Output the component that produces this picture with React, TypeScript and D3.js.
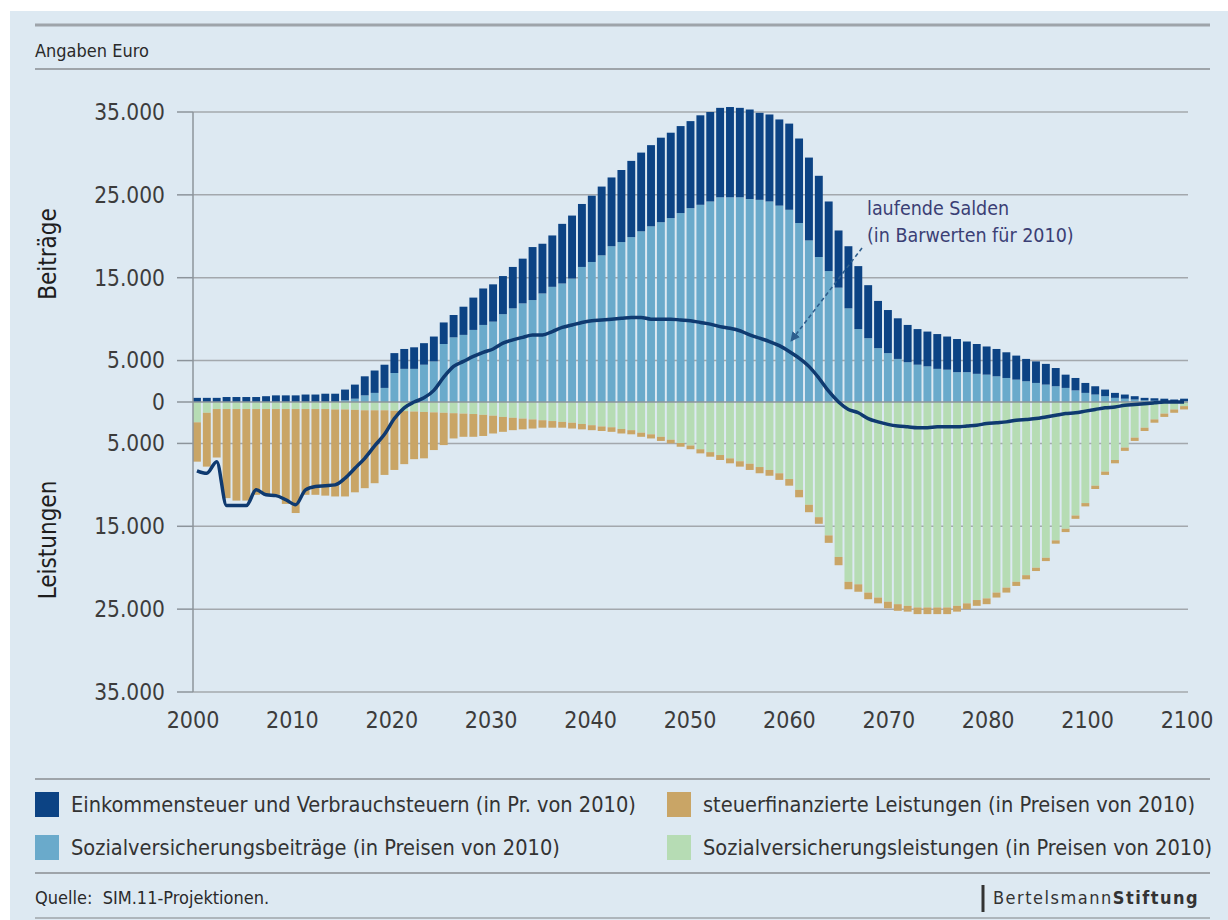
import React, { useEffect } from 'react';
import * as d3 from 'd3';

// Jahre 2000 bis 2100, ein Balken pro Jahr
const years = d3.range(2000, 2101);

// Beiträge (positiv), Euro
const sozialBeitraege = [
  0, 0, 0, 0, 0, 0, 0, 0, 0, 0, 0, 0, 0, 0, 0,
  200, 400, 800, 1100, 1700, 3500, 4000, 4000, 4500, 4900,
  7000, 7800, 8100, 8700, 9300, 9700, 10600, 11300, 11900, 12300,
  13100, 13900, 14300, 14900, 16300, 16900, 17700, 18800, 19300, 19900,
  20600, 21200, 21700, 22200, 22800, 23400, 23800, 24200, 24700, 24700,
  24700, 24500, 24400, 24200, 23700, 23200, 21600, 19500, 17500, 15800,
  13800, 11300, 8800, 7700, 6500, 5900, 5200, 4800, 4500, 4300,
  4000, 3900, 3600, 3600, 3400, 3300, 3100, 2900, 2700, 2500,
  2300, 2100, 1900, 1700, 1400, 1100, 900, 700, 500, 400,
  300, 200, 150, 100, 100, 100,
];
const steuern = [
  500, 500, 500, 600, 600, 600, 600, 700, 800, 800, 800, 900, 900, 1000, 1000,
  1300, 1700, 2300, 2700, 2800, 2400, 2400, 2600, 2600, 3000,
  2600, 2700, 3400, 3900, 4400, 4500, 4600, 5000, 5400, 6400,
  6000, 6200, 7200, 7600, 7600, 8000, 8300, 8300, 8700, 9200,
  9500, 9800, 10200, 10300, 10500, 10500, 10800, 10800, 10800, 10900,
  10800, 10800, 10500, 10500, 10400, 10400, 10200, 10000, 9800, 8400,
  6900, 7500, 7600, 6400, 5700, 5200, 4900, 4500, 4300, 4200,
  4200, 4000, 4000, 3700, 3600, 3400, 3300, 3100, 2900, 2700,
  2600, 2500, 2200, 1600, 1500, 1200, 1000, 800, 600, 500,
  400, 300, 300, 300, 200, 300,
];

// Leistungen (als Beträge, nach unten gezeichnet), Euro
const svLeistungen = [
  2450, 1300, 850, 850, 850, 850, 850, 850, 850, 850,
  850, 850, 850, 850, 900, 900, 950, 1000, 1000, 1000,
  1050, 1100, 1150, 1200, 1250, 1300, 1350, 1400, 1450, 1550,
  1650, 1800, 1900, 2000, 2100, 2200, 2300, 2400, 2500, 2650,
  2800, 2950, 3050, 3250, 3400, 3700, 3900, 4200, 4550, 4950,
  5250, 5700, 6050, 6400, 6800, 7150, 7450, 7850, 8200, 8600,
  9300, 10600, 12400, 13900, 16100, 18700, 21700, 22000, 23000, 23600,
  24100, 24400, 24600, 24800, 24800, 24800, 24800, 24600, 24300, 23900,
  23700, 23000, 22400, 21700, 20900, 20000, 18800, 16700, 15300, 13700,
  12200, 10100, 8400, 7000, 5500, 4300, 3100, 2100, 1400, 900,
  500,
];
const steuerLeistungen = [
  4750, 6500, 5850, 10750, 11050, 11050, 10350, 10350, 10350, 11450,
  12550, 10350, 10350, 10450, 10500, 10500, 9950, 9400, 8800, 7800,
  7150, 6400, 5750, 5600, 4550, 3900, 3050, 2800, 2750, 2550,
  2150, 1800, 1500, 1300, 1100, 900, 800, 700, 700, 650,
  600, 550, 550, 550, 500, 500, 500, 500, 450, 450,
  450, 500, 550, 600, 600, 650, 750, 750, 700, 800,
  800, 900, 900, 800, 900, 1000, 900, 900, 800, 700,
  800, 800, 700, 800, 800, 800, 800, 700, 700, 700,
  700, 600, 600, 500, 500, 400, 400, 400, 400, 400,
  400, 400, 400, 400, 400, 400, 400, 400, 400, 400,
  400,
];

// laufende Salden (in Barwerten für 2010)
const salden = [
  -8300, -8600, -7200, -12500, -12500, -12500, -10600, -11200, -11300, -11800,
  -12400, -10600, -10200, -10100, -10000, -9200, -8000, -6800, -5300, -3900,
  -2000, -700, 0, 500, 1400, 3000, 4300, 4900, 5500, 6000,
  6400, 7100, 7500, 7800, 8100, 8100, 8500, 9000, 9300, 9600,
  9800, 9900, 10000, 10100, 10200, 10200, 10000, 10000, 10000, 9900,
  9800, 9600, 9400, 9100, 8900, 8600, 8100, 7700, 7300, 6800,
  6100, 5300, 4300, 2900, 1300, 0, -900, -1300, -2000, -2400,
  -2700, -2900, -3000, -3100, -3100, -3000, -3000, -3000, -2900, -2800,
  -2600, -2500, -2400, -2200, -2100, -2000, -1800, -1600, -1400, -1300,
  -1100, -900, -700, -600, -400, -300, -200, -100, 0, 0,
  0,
];

const yTicks = [35000, 25000, 15000, 5000, 0, -5000, -15000, -25000, -35000];
const yTickLabels = ['35.000', '25.000', '15.000', '5.000', '0', '5.000', '15.000', '25.000', '35.000'];
const xTicks = [2000, 2010, 2020, 2030, 2040, 2050, 2060, 2070, 2080, 2090, 2100];
const xTickLabels = ['2000', '2010', '2020', '2030', '2040', '2050', '2060', '2070', '2080', '2100', '2100'];

const legendItems = [
  { key: 'steuern', label: 'Einkommensteuer und Verbrauchsteuern (in Pr. von 2010)', color: '#0c4384' },
  { key: 'beitraege', label: 'Sozialversicherungsbeiträge (in Preisen von 2010)', color: '#6aaacb' },
  { key: 'stLeist', label: 'steuerfinanzierte Leistungen (in Preisen von 2010)', color: '#c9a566' },
  { key: 'svLeist', label: 'Sozialversicherungsleistungen (in Preisen von 2010)', color: '#b6dcb4' },
];

const colors: Record<string, string> = {
  beitraege: '#6aaacb',
  steuern: '#0c4384',
  svLeist: '#b6dcb4',
  stLeist: '#c9a566',
};

const FONT = "'Liberation Sans Narrow', 'DejaVu Sans Condensed', 'Arial Narrow', sans-serif";
const BG = '#dde9f2';
const RULE = '#9ea4aa';

export default function App() {
  useEffect(() => {
    document.body.style.margin = '0';
  }, []);

  const W = 1228;
  const H = 920;

  const x = d3.scaleBand<number>().domain(years).range([193, 1188]).paddingInner(0.2).paddingOuter(0);
  const xAxis = d3.scaleLinear().domain([2000, 2100]).range([193, 1187]);
  const y = d3.scaleLinear().domain([-35000, 35000]).range([692, 112]);

  const rows = years.map((yr, i) => ({
    year: yr,
    beitraege: sozialBeitraege[i],
    steuern: steuern[i],
    svLeist: -svLeistungen[i],
    stLeist: -steuerLeistungen[i],
  }));
  const series = d3.stack<any>()
    .keys(['beitraege', 'steuern', 'svLeist', 'stLeist'])
    .offset(d3.stackOffsetDiverging)(rows);

  const line = d3.line<number>()
    .x((_, i) => (x(years[i]) as number) + x.bandwidth() / 2)
    .y(d => y(d))
    .curve(d3.curveMonotoneX);

  const plotLeft = 193;
  const plotRight = 1188;

  return (
    <svg width={W} height={H} style={{ display: 'block', fontFamily: FONT }}>
      <rect x={0} y={0} width={W} height={H} fill="#fff" />
      <rect x={10} y={11} width={W - 10} height={H - 11} fill={BG} />

      {/* Kopf */}
      <line x1={35} x2={1210} y1={25} y2={25} stroke={RULE} strokeWidth={3} />
      <text x={35} y={57} fontSize={18} fill="#2a2a2a">Angaben Euro</text>
      <line x1={35} x2={1210} y1={69} y2={69} stroke={RULE} strokeWidth={2} />

      {/* Gitter */}
      {yTicks.filter(t => t !== 0).map(t => (
        <line key={t} x1={plotLeft} x2={plotRight} y1={y(t)} y2={y(t)} stroke="#a3a8ad" strokeWidth={1.5} />
      ))}

      {/* Balken */}
      {series.map(s => (
        <g key={s.key} fill={colors[s.key]}>
          {s.map((d, i) => {
            const y0 = y(Math.max(d[0], d[1]));
            const y1 = y(Math.min(d[0], d[1]));
            return (
              <rect key={i} x={x(years[i])} y={y0} width={x.bandwidth()} height={Math.max(0, y1 - y0)} />
            );
          })}
        </g>
      ))}

      {/* Nulllinie und Achsen */}
      <line x1={plotLeft} x2={plotRight} y1={y(0)} y2={y(0)} stroke="#8c949b" strokeWidth={1.5} />
      <line x1={plotLeft} x2={plotLeft} y1={y(35000)} y2={y(-35000)} stroke="#8c949b" strokeWidth={1.5} />
      {yTicks.map((t, i) => (
        <g key={t}>
          <line x1={177} x2={plotLeft} y1={y(t)} y2={y(t)} stroke="#8c949b" strokeWidth={1.5} />
          <text x={165} y={y(t)} dy="0.35em" textAnchor="end" fontSize={22.5} fill="#3c3c3c">{yTickLabels[i]}</text>
        </g>
      ))}
      {xTicks.map((t, i) => (
        <text key={t} x={xAxis(t)} y={720} dy="0.35em" textAnchor="middle" fontSize={23} fill="#3c3c3c">{xTickLabels[i]}</text>
      ))}

      <text transform={`translate(56,254) rotate(-90)`} textAnchor="middle" fontSize={24} fill="#1e1e1e">Beiträge</text>
      <text transform={`translate(56,540) rotate(-90)`} textAnchor="middle" fontSize={24} fill="#1e1e1e">Leistungen</text>

      {/* laufende Salden */}
      <path d={line(salden) ?? ''} fill="none" stroke="#0f3a70" strokeWidth={3.5} strokeLinejoin="round" />

      <defs>
        <marker id="arrow" viewBox="0 0 10 10" refX="9" refY="5" markerWidth="6" markerHeight="6" orient="auto-start-reverse">
          <path d="M0,0 L10,5 L0,10 z" fill="#2e5f8e" />
        </marker>
      </defs>
      <line x1={862} y1={248} x2={791} y2={341} stroke="#2e5f8e" strokeWidth={1.6} strokeDasharray="4,3" markerEnd="url(#arrow)" />
      <text x={867} y={215} fontSize={19.5} fill="#3b3f75">laufende Salden</text>
      <text x={867} y={242} fontSize={19.5} fill="#3b3f75">(in Barwerten für 2010)</text>

      {/* Legende */}
      <line x1={35} x2={1210} y1={779} y2={779} stroke={RULE} strokeWidth={2} />
      {legendItems.map((it, i) => {
        const col = i < 2 ? 0 : 1;
        const row = i % 2;
        const sx = col === 0 ? 35 : 667;
        const cy = 804 + row * 43;
        return (
          <g key={it.key}>
            <rect x={sx} y={cy - 12} width={24} height={25} fill={it.color} />
            <text x={sx + 36} y={cy} dy="0.35em" fontSize={21.6} fill="#333">{it.label}</text>
          </g>
        );
      })}
      <line x1={35} x2={1210} y1={873} y2={873} stroke={RULE} strokeWidth={2} />

      {/* Fuß */}
      <text x={35} y={898} dy="0.35em" fontSize={18} fill="#2a2a2a" style={{ whiteSpace: 'pre' }}>{'Quelle:  SIM.11-Projektionen.'}</text>
      <line x1={983} x2={983} y1={885} y2={912} stroke="#333" strokeWidth={3} />
      <text x={993} y={898} dy="0.35em" fontSize={18} fill="#333" letterSpacing={1.5}>
        <tspan>Bertelsmann</tspan><tspan fontWeight="bold">Stiftung</tspan>
      </text>
      <line x1={35} x2={1210} y1={918} y2={918} stroke={RULE} strokeWidth={1.5} />
    </svg>
  );
}
